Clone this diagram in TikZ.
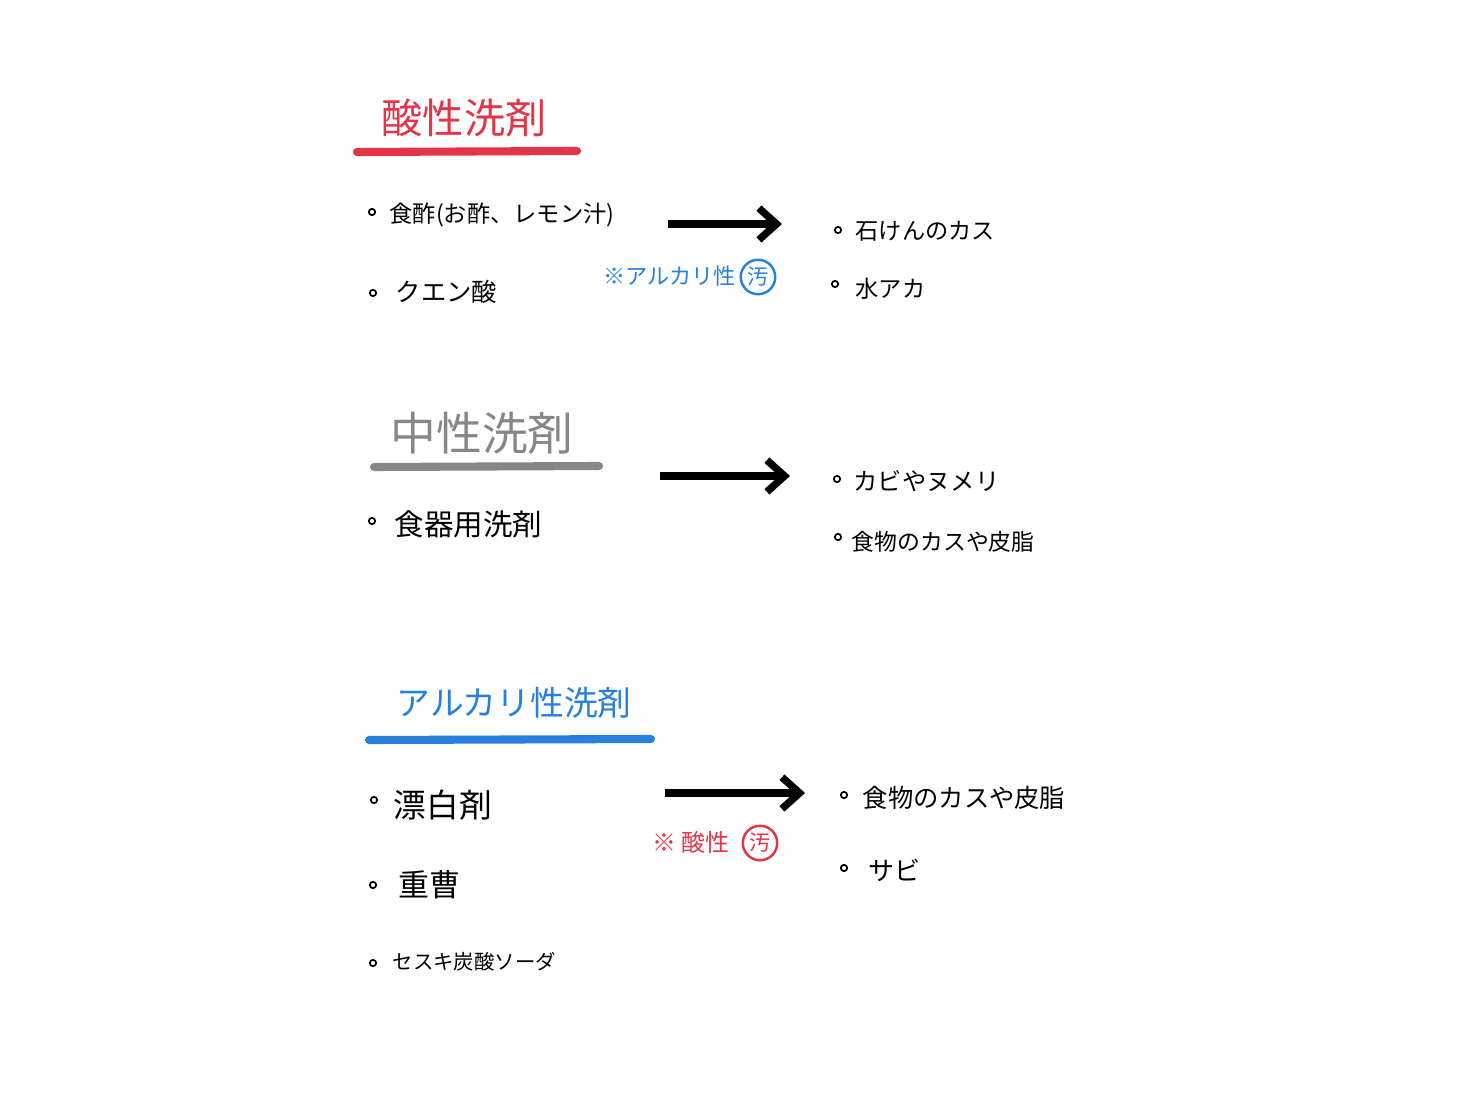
\documentclass[tikz,border=0pt]{standalone}
\usepackage{fontspec}
\setmainfont{Noto Sans CJK JP}
\usetikzlibrary{arrows.meta}
\definecolor{acidred}{RGB}{228,52,72}
\definecolor{neutgray}{RGB}{135,135,135}
\definecolor{alkblue}{RGB}{40,128,222}
\tikzset{
  txt/.style={anchor=west, inner sep=0pt, font=\fontsize{#1}{#1}\selectfont},
  bul/.style={circle, draw, line width=0.5pt, minimum size=1.8pt, inner sep=0pt},
  uline/.style={line width=2.3pt, line cap=round},
  bigarrow/.style={line width=2.1pt, -{Straight Barb[length=5pt,width=9pt,line width=2.1pt]}},
  circ/.style={circle, draw, line width=0.7pt, inner sep=0.6pt, font=\fontsize{6pt}{6pt}\selectfont},
}
\begin{document}
\begin{tikzpicture}[x=0.01cm,y=-0.01cm]
\useasboundingbox (0,0) rectangle (1477,1110);
\fill[white] (0,0) rectangle (1477,1110);
% ---------- acid ----------
\node[txt=11.7pt, text=acidred] (t1) at (381,118) {酸性洗剤};
\coordinate (u1a) at (357,152); \coordinate (u1b) at (577,151);
\draw[uline, acidred] (u1a) -- (u1b);
\node[bul] (b11) at (372,212) {};
\node[txt=6.6pt] (l11) at (389,215) {食酢(お酢、レモン汁)};
\node[bul] (b12) at (373,293) {};
\node[txt=7.2pt] (l12) at (395,292) {クエン酸};
\coordinate (a1s) at (668,224); \coordinate (a1e) at (782,224);
\draw[bigarrow] (a1s) -- (a1e);
\node[txt=6.3pt, text=alkblue] (n1) at (603,276) {※アルカリ性};
\node[circ, text=alkblue, draw=alkblue] (c1) at (758,277) {汚};
\node[bul] (r11) at (838,230) {};
\node[txt=6.6pt] (m11) at (855,231) {石けんのカス};
\node[bul] (r12) at (835,284) {};
\node[txt=6.6pt] (m12) at (855,289) {水アカ};
% ---------- neutral ----------
\node[txt=13pt, text=neutgray] (t2) at (390,433) {中性洗剤};
\coordinate (u2a) at (374,467); \coordinate (u2b) at (599,466);
\draw[uline, neutgray] (u2a) -- (u2b);
\node[bul] (b21) at (372,521) {};
\node[txt=8.4pt] (l21) at (394,524) {食器用洗剤};
\coordinate (a2s) at (660,476); \coordinate (a2e) at (790,476);
\draw[bigarrow] (a2s) -- (a2e);
\node[bul] (r21) at (837,479) {};
\node[txt=6.9pt] (m21) at (853,481) {カビやヌメリ};
\node[bul] (r22) at (838,537) {};
\node[txt=6.5pt] (m22) at (851,542) {食物のカスや皮脂};
% ---------- alkaline ----------
\node[txt=9.6pt, text=alkblue] (t3) at (396,703) {アルカリ性洗剤};
\coordinate (u3a) at (369,740); \coordinate (u3b) at (651,739);
\draw[uline, alkblue] (u3a) -- (u3b);
\node[bul] (b31) at (374,800) {};
\node[txt=9.3pt] (l31) at (393,805) {漂白剤};
\node[bul] (b32) at (373,885) {};
\node[txt=8.8pt] (l32) at (398,885) {重曹};
\node[bul] (b33) at (373,963) {};
\node[txt=5.8pt] (l33) at (392,962) {セスキ炭酸ソーダ};
\coordinate (a3s) at (665,793); \coordinate (a3e) at (805,793);
\draw[bigarrow] (a3s) -- (a3e);
\node[txt=6.8pt, text=acidred] (n3) at (652,842) {※ 酸性};
\node[circ, text=acidred, draw=acidred] (c3) at (760,843) {汚};
\node[bul] (r31) at (844,795) {};
\node[txt=7.2pt] (m31) at (862,798) {食物のカスや皮脂};
\node[bul] (r32) at (844,868) {};
\node[txt=7.4pt] (m32) at (868,870) {サビ};
\end{tikzpicture}
\end{document}
